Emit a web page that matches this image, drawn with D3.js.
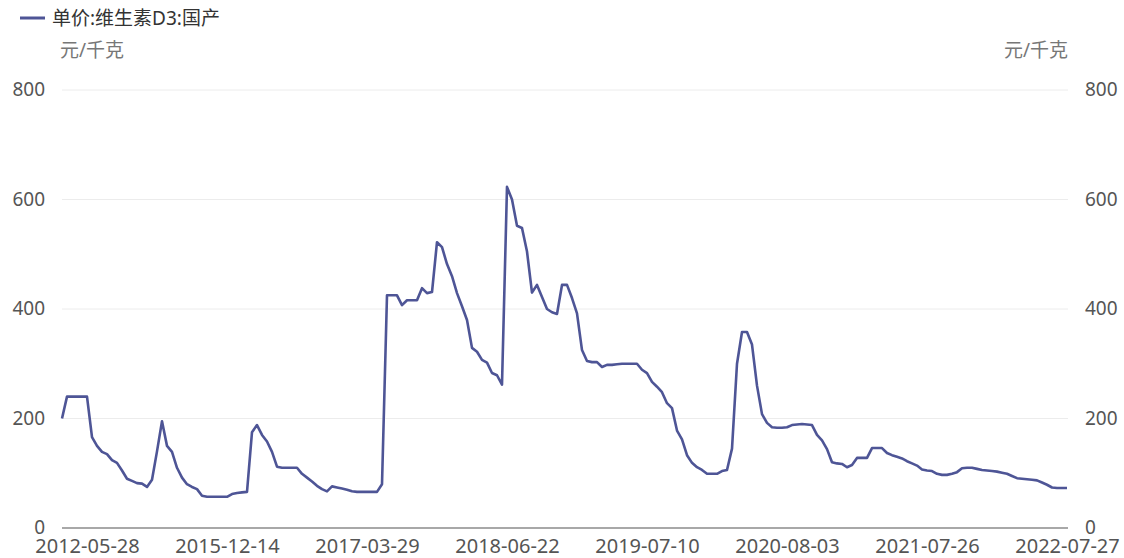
<!DOCTYPE html>
<html><head><meta charset="utf-8">
<script src="https://cdn.jsdelivr.net/npm/d3@7"></script>
<style>
html,body{margin:0;padding:0;background:#fff;}
text{font-family:"Noto Sans","Noto Sans CJK SC",sans-serif;}
</style></head>
<body><svg id="chart" width="1124" height="558"></svg>
<script>
const seriesName = "单价:维生素D3:国产";
const unitLabel = "元/千克";
const values = [
200,240,240,240,240,240,166,150,139,135,124,119,105,90,86,82,81,75,88,140,
195,150,139,110,92,80,75,71,59,57,57,57,57,57,62,64,65,66,175,188,
170,158,139,112,110,110,110,110,99,92,85,77,71,67,76,74,72,70,67,66,
66,66,66,66,80,425,425,425,407,416,416,416,438,429,431,522,513,482,460,429,
405,380,329,322,307,302,283,279,262,623,600,552,548,505,430,444,422,400,394,391,
444,444,420,392,325,305,303,303,294,298,298,299,300,300,300,300,289,283,267,258,
248,228,219,178,162,133,119,111,106,99,99,99,104,106,145,300,358,358,335,260,
208,192,184,183,183,184,188,189,190,189,188,170,160,144,120,118,117,111,115,128,
128,128,146,146,146,137,133,130,127,122,118,114,107,105,104,99,97,97,99,102,
109,110,110,108,106,105,104,103,101,99,95,91,90,89,88,87,83,79,74,73,
73,73
];
const tickIndex = [5,33,61,89,117,145,173,201];
const tickLabels = ["2012-05-28","2015-12-14","2017-03-29","2018-06-22","2019-07-10","2020-08-03","2021-07-26","2022-07-27"];
const yTicks = [0,200,400,600,800];

(function(){
const svg = d3.select("#chart");
const pL = 62, pR = 1067, pT = 90, pB = 528;
const x = d3.scaleLinear().domain([0, values.length-1]).range([pL, pR]);
const y = d3.scaleLinear().domain([0, 800]).range([pB, pT]);
const lineColor = "#4e5596";

svg.append("g").selectAll("line").data(yTicks.filter(d=>d>0)).join("line")
  .attr("x1", pL).attr("x2", pR+1)
  .attr("y1", d=>y(d)).attr("y2", d=>y(d))
  .attr("stroke", "#ececec").attr("stroke-width", 1);

const yl = d3.axisLeft(y).tickValues(yTicks).tickSize(0).tickPadding(0);
const gl = svg.append("g").attr("transform", "translate(45,0)").call(yl);
gl.select(".domain").remove();
gl.selectAll("text").attr("font-size", 19).attr("fill", "#555").attr("font-family", "Noto Sans").attr("dy", "0.3em");

const yr = d3.axisRight(y).tickValues(yTicks).tickSize(0).tickPadding(0);
const gr = svg.append("g").attr("transform", "translate(1085,0)").call(yr);
gr.select(".domain").remove();
gr.selectAll("text").attr("font-size", 19).attr("fill", "#555").attr("font-family", "Noto Sans").attr("dy", "0.3em");

svg.append("line").attr("x1", pL).attr("x2", pR+1).attr("y1", pB).attr("y2", pB)
  .attr("stroke", "#a8a8a8").attr("stroke-width", 2);
const xa = d3.axisBottom(x).tickValues(tickIndex).tickSize(0).tickPadding(0)
  .tickFormat((d,i)=>tickLabels[i]);
const gx = svg.append("g").attr("transform", `translate(0,${pB})`).call(xa);
gx.select(".domain").remove();
gx.selectAll("text").attr("font-size", 20).attr("fill", "#555").attr("font-family", "Noto Sans")
  .attr("y", 0).attr("dy", "1.27em");

const line = d3.line().x((d,i)=>x(i)).y(d=>y(d));
svg.append("path").datum(values).attr("d", line)
  .attr("fill", "none").attr("stroke", lineColor).attr("stroke-width", 2.6)
  .attr("stroke-linejoin", "round");

svg.append("line").attr("x1", 20).attr("x2", 45).attr("y1", 18).attr("y2", 18)
  .attr("stroke", lineColor).attr("stroke-width", 3);
svg.append("text").attr("x", 52).attr("y", 18).attr("dy", "0.35em")
  .attr("font-size", 19).attr("fill", "#333").text(seriesName);

svg.append("text").attr("x", 60).attr("y", 50).attr("dy", "0.35em")
  .attr("font-size", 19).attr("fill", "#777").text(unitLabel);
svg.append("text").attr("x", 1068).attr("y", 50).attr("dy", "0.35em").attr("text-anchor", "end")
  .attr("font-size", 19).attr("fill", "#777").text(unitLabel);
})();
</script></body></html>
